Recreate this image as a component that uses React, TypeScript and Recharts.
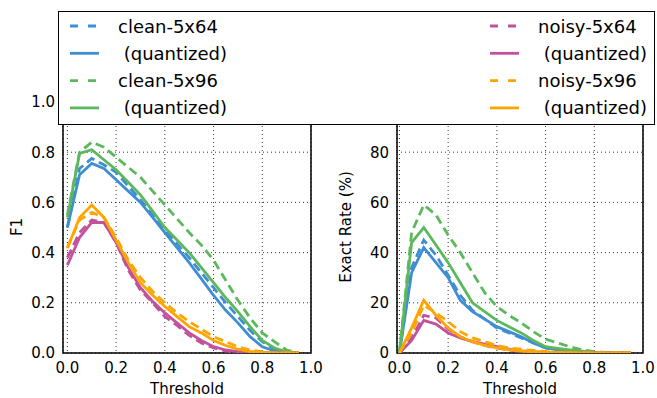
import React from 'react';
import { LineChart, Line, XAxis, YAxis, CartesianGrid, ReferenceArea } from 'recharts';

// thresholds shared by every curve
const thresholds = [0, 0.05, 0.1, 0.15, 0.2, 0.25, 0.3, 0.35, 0.4, 0.45, 0.5, 0.55, 0.6, 0.65, 0.7, 0.75, 0.8, 0.85, 0.9, 0.95];

// F1 (left panel)
const f1Clean64 = [0.5, 0.735, 0.775, 0.75, 0.72, 0.665, 0.61, 0.55, 0.49, 0.435, 0.38, 0.32, 0.26, 0.2, 0.145, 0.09, 0.045, 0.015, 0.003, 0];
const f1Clean64Q = [0.5, 0.71, 0.755, 0.735, 0.69, 0.645, 0.6, 0.54, 0.48, 0.42, 0.36, 0.295, 0.23, 0.17, 0.12, 0.065, 0.025, 0.008, 0.002, 0];
const f1Clean96 = [0.55, 0.8, 0.84, 0.82, 0.78, 0.74, 0.7, 0.645, 0.59, 0.535, 0.48, 0.43, 0.37, 0.29, 0.21, 0.14, 0.08, 0.045, 0.012, 0];
const f1Clean96Q = [0.54, 0.795, 0.81, 0.77, 0.73, 0.68, 0.63, 0.565, 0.5, 0.45, 0.4, 0.34, 0.28, 0.22, 0.165, 0.105, 0.05, 0.02, 0.005, 0];
const f1Noisy64 = [0.38, 0.48, 0.53, 0.52, 0.44, 0.33, 0.25, 0.2, 0.145, 0.11, 0.07, 0.04, 0.02, 0.008, 0.003, 0, 0, 0, 0, 0];
const f1Noisy64Q = [0.35, 0.46, 0.52, 0.52, 0.44, 0.34, 0.26, 0.205, 0.16, 0.12, 0.08, 0.05, 0.025, 0.012, 0.005, 0.001, 0, 0, 0, 0];
const f1Noisy96 = [0.42, 0.53, 0.56, 0.54, 0.46, 0.37, 0.3, 0.245, 0.2, 0.16, 0.125, 0.095, 0.065, 0.045, 0.025, 0.012, 0.005, 0, 0, 0];
const f1Noisy96Q = [0.417, 0.54, 0.59, 0.54, 0.45, 0.36, 0.28, 0.23, 0.185, 0.145, 0.105, 0.08, 0.05, 0.03, 0.015, 0.006, 0.002, 0, 0, 0];

// exact rate % (right panel)
const erClean64 = [0, 34, 45, 39, 31, 23, 17, 13.5, 10, 8, 6, 4, 2, 1.3, 0.8, 0.4, 0.1, 0, 0, 0];
const erClean64Q = [0, 32, 42, 36, 30, 21, 16.5, 13.5, 10.5, 8.5, 6.5, 4, 2, 1.3, 0.8, 0.4, 0.1, 0, 0, 0];
const erClean96 = [0, 48, 59, 55, 47, 40, 32, 24, 18.5, 15, 12, 8.5, 5.5, 4, 2.5, 1.3, 0.5, 0.2, 0, 0];
const erClean96Q = [0, 44, 50, 43, 36, 28, 20, 16.5, 13, 10.5, 8, 5, 2.5, 1.8, 1.2, 0.7, 0.3, 0.1, 0, 0];
const erNoisy64 = [0, 6, 15, 14, 9.5, 6.5, 4.5, 3, 2, 1.2, 0.5, 0.3, 0.1, 0, 0, 0, 0, 0, 0, 0];
const erNoisy64Q = [0, 5, 13, 11.5, 8, 6, 4.5, 3.5, 2.5, 1.5, 0.8, 0.4, 0.2, 0.1, 0, 0, 0, 0, 0, 0];
const erNoisy96 = [0, 8, 19, 16, 12.5, 8.5, 6, 4.5, 3, 2, 1.5, 1, 0.5, 0.3, 0.1, 0, 0, 0, 0, 0];
const erNoisy96Q = [0, 10, 21, 15, 10, 6.5, 4.5, 3, 2, 1.3, 0.8, 0.5, 0.3, 0.2, 0.1, 0.05, 0, 0, 0, 0];

const xTicks = [0, 0.2, 0.4, 0.6, 0.8, 1.0];
const f1Ticks = [0, 0.2, 0.4, 0.6, 0.8, 1.0];
const erTicks = [0, 20, 40, 60, 80, 100];

const BLUE = '#3f8ed3';
const GREEN = '#5cb85c';
const PINK = '#c2529c';
const ORANGE = '#ffa500';

const series = [
  { key: 'clean64', label: 'clean-5x64', color: BLUE, dashed: true },
  { key: 'clean64q', label: ' (quantized)', color: BLUE, dashed: false },
  { key: 'clean96', label: 'clean-5x96', color: GREEN, dashed: true },
  { key: 'clean96q', label: ' (quantized)', color: GREEN, dashed: false },
  { key: 'noisy64', label: 'noisy-5x64', color: PINK, dashed: true },
  { key: 'noisy64q', label: ' (quantized)', color: PINK, dashed: false },
  { key: 'noisy96', label: 'noisy-5x96', color: ORANGE, dashed: true },
  { key: 'noisy96q', label: ' (quantized)', color: ORANGE, dashed: false },
];

const build = (cols: number[][]) =>
  thresholds.map((t, i) => {
    const row: Record<string, number> = { t };
    series.forEach((s, j) => { row[s.key] = cols[j][i]; });
    return row;
  });

const f1Data = build([f1Clean64, f1Clean64Q, f1Clean96, f1Clean96Q, f1Noisy64, f1Noisy64Q, f1Noisy96, f1Noisy96Q]);
const erData = build([erClean64, erClean64Q, erClean96, erClean96Q, erNoisy64, erNoisy64Q, erNoisy96, erNoisy96Q]);

const FONT = 'DejaVu Sans, sans-serif';
const DASH = '9 5';

const yLabel = (text: string, x: number) => () => (
  <text x={x} y={227} transform={`rotate(-90 ${x} 227)`} textAnchor="middle" dominantBaseline="central"
    fontFamily={FONT} fontSize={15} fill="#000">{text}</text>
);

interface PanelProps {
  data: Record<string, number>[];
  yMax: number;
  yTicks: number[];
  fmt: (v: number) => string;
  label: string;
  labelX: number;
  yWidth: number;
  width: number;
  right: number;
  xMin: number;
}

const Panel: React.FC<PanelProps> = ({ data, yMax, yTicks, fmt, label, labelX, yWidth, width, right, xMin }) => (
  <LineChart width={width} height={398} data={data} margin={{ top: 102, right, left: 0, bottom: 0 }}>
    <CartesianGrid stroke="#000" strokeDasharray="1 3" strokeWidth={0.8} />
    <XAxis dataKey="t" type="number" domain={[xMin, 1]} ticks={xTicks} allowDataOverflow
      tickFormatter={(v: number) => v.toFixed(1)} tickLine={false} axisLine={false} tickMargin={3} height={45}
      tick={{ fill: '#000', fontSize: 15, fontFamily: FONT }}
      label={{ value: 'Threshold', position: 'insideBottom', offset: 4, fill: '#000', fontSize: 15, fontFamily: FONT }} />
    <YAxis type="number" domain={[0, yMax]} ticks={yTicks} allowDataOverflow width={yWidth}
      tickFormatter={fmt} tickLine={false} axisLine={false} tickMargin={2}
      tick={{ fill: '#000', fontSize: 15, fontFamily: FONT }}
      label={yLabel(label, labelX)} />
    {series.map((s) => (
      <Line key={s.key} dataKey={s.key} type="linear" stroke={s.color} strokeWidth={2.8}
        strokeDasharray={s.dashed ? DASH : undefined} dot={false} isAnimationActive={false} />
    ))}
    <ReferenceArea x1={xMin} x2={1} y1={0} y2={yMax} fill="none" stroke="#000" strokeWidth={1.5} ifOverflow="visible" />
  </LineChart>
);

const Legend: React.FC = () => {
  const rows = [0, 1, 2, 3];
  return (
    <div style={{ position: 'absolute', left: 58, top: 11, width: 597, height: 114, background: '#fff',
      border: '1.5px solid #000', boxSizing: 'border-box', zIndex: 2 }}>
      <svg width={597} height={114} style={{ position: 'absolute', left: -1.5, top: -1.5 }}>
        {[0, 1].map((col) =>
          rows.map((r) => {
            const s = series[col * 4 + r];
            const x0 = col === 0 ? 12 : 432;
            const y = 15 + r * 27.3;
            return (
              <g key={s.key}>
                <line x1={x0} x2={x0 + 29} y1={y} y2={y} stroke={s.color} strokeWidth={2.8}
                  strokeDasharray={s.dashed ? '8 10' : undefined} />
                <text x={x0 + 48} y={y} dominantBaseline="central" fontFamily={FONT} fontSize={18} fill="#000"
                  style={{ whiteSpace: 'pre' }}>{s.label}</text>
              </g>
            );
          })
        )}
      </svg>
    </div>
  );
};

export default function App() {
  return (
    <div style={{ position: 'fixed', left: 0, top: 0, width: 657, height: 398, background: '#fff' }}>
      <div style={{ position: 'absolute', left: 0, top: 0 }}>
        <Panel data={f1Data} yMax={1} yTicks={f1Ticks} fmt={(v) => v.toFixed(1)} label="F1" labelX={17}
          yWidth={63} width={330} right={19} xMin={-0.018} />
      </div>
      <div style={{ position: 'absolute', left: 330, top: 0 }}>
        <Panel data={erData} yMax={100} yTicks={erTicks} fmt={(v) => String(v)} label="Exact Rate (%)" labelX={16}
          yWidth={67} width={327} right={14} xMin={-0.01} />
      </div>
      <Legend />
    </div>
  );
}
